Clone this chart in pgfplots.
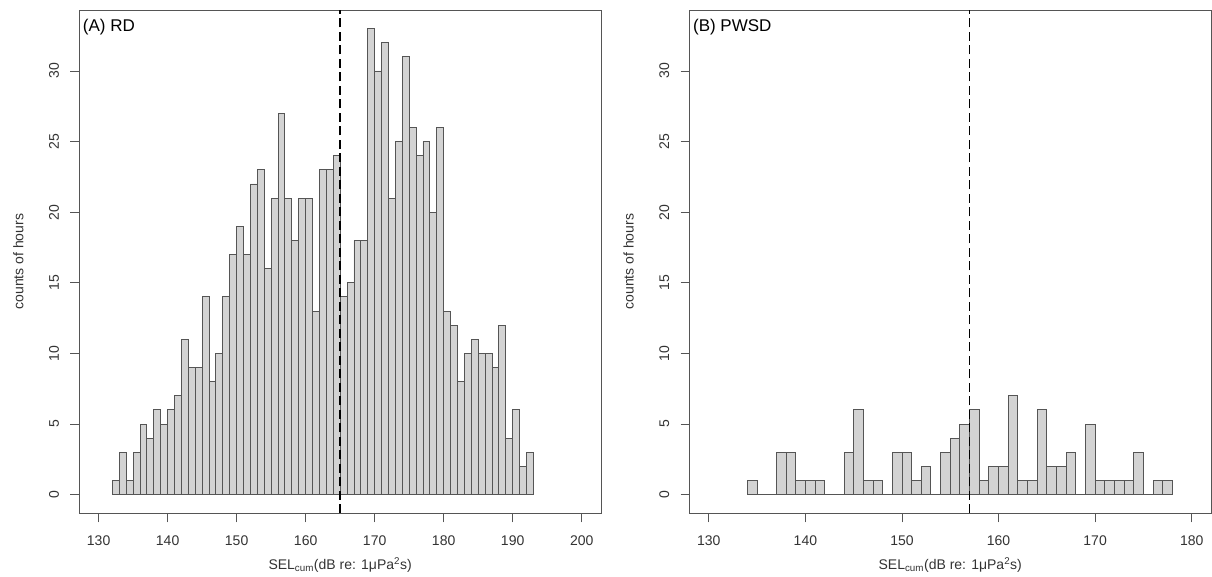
\documentclass[border=0pt]{standalone}
\usepackage{fontspec}
\setmainfont{Liberation Sans}
\usepackage{pgfplots}
\usepackage{pgfplotstable}
\pgfplotsset{compat=1.18}
\definecolor{barfill}{HTML}{D3D3D3}
\definecolor{axgray}{HTML}{555555}
\definecolor{txtgray}{HTML}{333333}
\newcommand\tickfont{\fontsize{14}{16}\selectfont}
\newcommand\titlefont{\fontsize{17}{20}\selectfont}

\pgfplotstableread{
x y
132 1
133 3
134 1
135 3
136 5
137 4
138 6
139 5
140 6
141 7
142 11
143 9
144 9
145 14
146 8
147 10
148 14
149 17
150 19
151 17
152 22
153 23
154 16
155 21
156 27
157 21
158 18
159 21
160 21
161 13
162 23
163 23
164 24
165 14
166 15
167 18
168 18
169 33
170 30
171 32
172 21
173 25
174 31
175 26
176 24
177 25
178 20
179 26
180 13
181 12
182 8
183 10
184 11
185 10
186 10
187 9
188 12
189 4
190 6
191 2
192 3
193 0
}\histA

\pgfplotstableread{
x y
134 1
135 0
136 0
137 3
138 3
139 1
140 1
141 1
142 0
143 0
144 3
145 6
146 1
147 1
148 0
149 3
150 3
151 1
152 2
153 0
154 3
155 4
156 5
157 6
158 1
159 2
160 2
161 7
162 1
163 1
164 6
165 2
166 2
167 3
168 0
169 5
170 1
171 1
172 1
173 1
174 3
175 0
176 1
177 1
178 0
}\histB

\pgfplotsset{
  rpanel/.style={
    scale only axis,
    height=503.3pt,
    ymin=-1.32, ymax=34.32,
    ytick={0,5,10,15,20,25,30},
    axis line style={draw=axgray, line width=0.9pt},
    every tick/.style={draw=axgray, line width=0.9pt},
    tick align=outside,
    major tick length=9pt,
    xtick pos=left, ytick pos=left,
    /pgf/number format/assume math mode=true,
    /pgf/number format/1000 sep={},
    tick label style={font=\tickfont, text=txtgray},
    xticklabel style={anchor=north, inner sep=0pt, yshift=-13.5pt},
    yticklabel style={rotate=90, anchor=south, inner sep=0pt, yshift=11pt},
    xlabel={SEL\textsubscript{cum}(dB re: 1μPa\textsuperscript{2}s)},
    ylabel={counts of hours},
    label style={font=\tickfont, text=txtgray},
    xlabel style={at={(axis description cs:0.5,-0.1113)}, anchor=base},
    ylabel style={at={(axis description cs:-0.1073,0.5)}, anchor=base, rotate=0},
    clip=true,
  },
  histbar/.style={ybar interval, fill=barfill, draw=axgray, line width=0.9pt},
  vline/.style={black, line width=1.7pt, dash pattern=on 9pt off 4.5pt},
}

\begin{document}
\begin{tikzpicture}
\useasboundingbox (0,0) rectangle (1212pt,577pt);
\begin{axis}[rpanel,
  at={(79.3pt,63.7pt)}, anchor=south west,
  width=521.7pt,
  xmin=127.2, xmax=202.8,
  xtick={130,140,150,160,170,180,190,200},
]
\addplot[histbar] table[x=x,y=y] {\histA};
\addplot[vline] coordinates {(165,-1.32) (165,34.32)};
\node[anchor=base west, inner sep=0pt, font=\titlefont, text=black]
  at (axis description cs:0.0065,0.9569) {(A) RD};
\end{axis}
\begin{axis}[rpanel,
  at={(689.5pt,63.7pt)}, anchor=south west,
  width=521.5pt,
  xmin=128, xmax=182,
  xtick={130,140,150,160,170,180},
]
\addplot[histbar] table[x=x,y=y] {\histB};
\addplot[vline] coordinates {(157,-1.32) (157,34.32)};
\node[anchor=base west, inner sep=0pt, font=\titlefont, text=black]
  at (axis description cs:0.0065,0.9569) {(B) PWSD};
\end{axis}
\end{tikzpicture}
\end{document}
